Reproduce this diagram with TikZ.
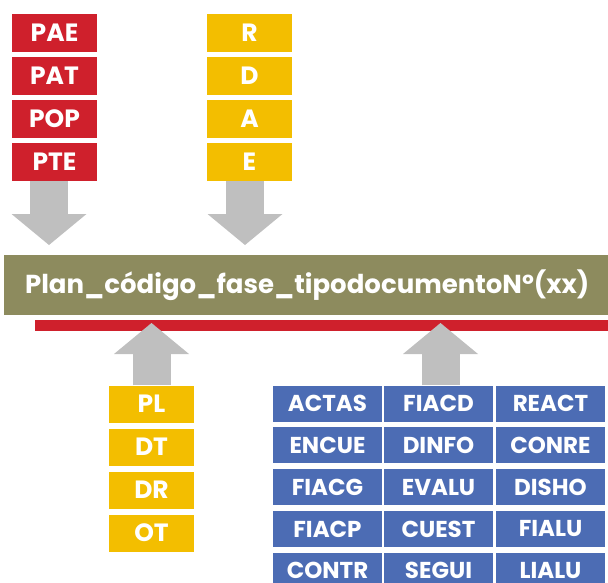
\documentclass[tikz,border=0pt]{standalone}
\usepackage{fontspec}
\setmainfont{Poppins}
\usetikzlibrary{arrows.meta}
\definecolor{planred}{RGB}{207,32,44}
\definecolor{faseyellow}{RGB}{243,190,0}
\definecolor{barolive}{RGB}{141,139,94}
\definecolor{docblue}{RGB}{76,108,180}
\definecolor{arrowgray}{RGB}{191,191,191}
\tikzset{
    box/.style={text=white, inner sep=0pt, minimum width=85pt, minimum height=38pt,
        font=\bfseries\fontsize{25}{25}\selectfont},
    cell/.style={fill=docblue, text=white, inner sep=0pt, minimum width=109pt, minimum height=36pt,
        font=\bfseries\fontsize{23}{23}\selectfont},
    bigarrow/.style={draw=arrowgray, line width=38pt,
        -{Triangle[width=75pt, length=31pt, line width=0pt]}}
}

\begin{document}
\begin{tikzpicture}[x=1pt, y=-1pt]
            \useasboundingbox (0, 0) rectangle (608, 583);
            \foreach \t [count=\i] in {PAE, PAT, POP, PTE} {
                \node[box, fill=planred] (plan\i) at (54.5, {33 + 43*(\i-1)}) {\t};
            }
            \foreach \t [count=\i] in {R, D, A, E} {
                \node[box, fill=faseyellow] (fase\i) at (249.5, {33 + 43*(\i-1)}) {\t};
            }
            \node[fill=barolive, text=white, anchor=north west, inner sep=0pt,
                minimum width=606pt, minimum height=60pt,
                font=\bfseries\fontsize{26}{26}\selectfont] (bar) at (4, 255)
                {Plan\_código\_fase\_tipodocumentoNº(xx)};
            \node[fill=planred, anchor=north west, inner sep=0pt,
                minimum width=575pt, minimum height=11pt] (rule) at (35, 320) {};
            \foreach \t [count=\i] in {PL, DT, DR, OT} {
                \node[box, fill=faseyellow, minimum height=37pt] (tipo\i) at (151.5, {404 + 43*(\i-1)}) {\t};
            }
            \foreach \a/\b/\c [count=\i] in {ACTAS/FIACD/REACT, ENCUE/DINFO/CONRE, FIACG/EVALU/DISHO,
                FIACP/CUEST/FIALU, CONTR/SEGUI/LIALU} {
                \node[cell] (doc\i1) at (327.5, {403.5 + 41.8*(\i-1)}) {\a};
                \node[cell] (doc\i2) at (438.5, {403.5 + 41.8*(\i-1)}) {\b};
                \node[cell] (doc\i3) at (550.5, {403.5 + 41.8*(\i-1)}) {\c};
            }
            \draw[bigarrow, shorten >=10pt] ([xshift=-5.5pt]plan4.south) -- ([xshift=-5.5pt]plan4.south |- bar.north);
            \draw[bigarrow, shorten >=10pt] ([xshift=-4.5pt]fase4.south) -- ([xshift=-4.5pt]fase4.south |- bar.north);
            \draw[bigarrow, shorten >=3pt] (tipo1.north) -- (tipo1.north |- rule.north);
            \draw[bigarrow, shorten >=3pt] ([xshift=2pt]doc12.north) -- ([xshift=2pt]doc12.north |- rule.north);
        \end{tikzpicture}
\end{document}
